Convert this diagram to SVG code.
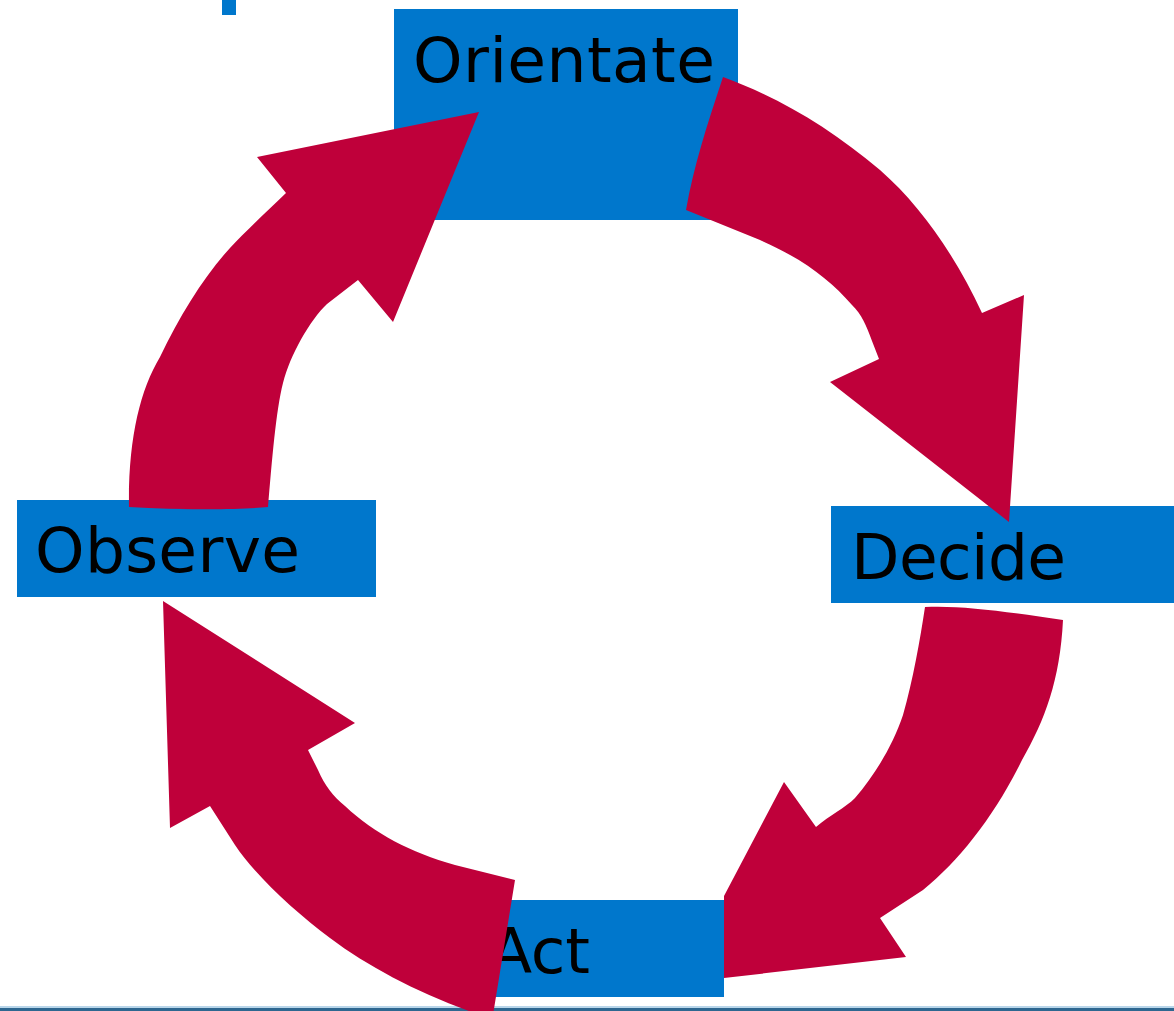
<svg xmlns="http://www.w3.org/2000/svg" width="1174" height="1011" viewBox="0 0 1174 1011">
  <style>
    .box { fill: #0077CC; }
    .label { font-family: "DejaVu Sans", "Liberation Sans", sans-serif; font-size: 63px; fill: #000000; }
    .arrow { fill: #BF003A; stroke: none; }
  </style>

  <!-- page background and footer rule -->
  <rect x="0" y="0" width="1174" height="1011" fill="#FFFFFF"/>
  <rect x="222" y="0" width="14" height="15" fill="#0077CC"/>
  <rect x="0" y="1006" width="1174" height="2" fill="#B9D6EA"/>
  <rect x="0" y="1008" width="1174" height="3" fill="#2E6790"/>

  <!-- stages -->
  <g id="node-orientate">
    <rect class="box" x="394" y="9" width="344" height="211"/>
    <text class="label" x="413" y="82" textLength="302" lengthAdjust="spacing">Orientate</text>
  </g>
  <g id="node-observe">
    <rect class="box" x="17" y="500" width="359" height="97"/>
    <text class="label" x="35" y="572" textLength="265" lengthAdjust="spacing">Observe</text>
  </g>
  <g id="node-decide">
    <rect class="box" x="831" y="506" width="343" height="97"/>
    <text class="label" x="851" y="579" textLength="215" lengthAdjust="spacing">Decide</text>
  </g>
  <g id="node-act">
    <rect class="box" x="468" y="900" width="256" height="97"/>
    <text class="label" x="489" y="973" textLength="101" lengthAdjust="spacing">Act</text>
  </g>

  <!-- curved block arrows forming the loop -->
  <g id="connectors">
    <!-- Observe to Orientate -->
    <path class="arrow" d="M129,507 C128,440 140,390 160,357 C180,315 205,275 230,248 C245,232 265,213 286,193 L257,157 L479,112 L393,322 L358,280 L327,304 C310,320 290,355 283,383 C276,410 272,460 268,507 C240,510 180,510 129,507 Z"/>
    <!-- Orientate to Decide -->
    <path class="arrow" d="M723,77 C780,98 830,128 880,170 C920,205 955,255 982,313 L1024,295 L1009,522 L830,382 L879,359 L872,341 C866,325 862,315 852,305 C830,280 805,260 760,240 L686,210 C694,165 707,125 723,77 Z"/>
    <!-- Decide to Act -->
    <path class="arrow" d="M925,607 C960,605 1010,612 1063,620 C1060,680 1045,720 1022,760 C995,815 960,860 923,890 L880,918 L906,957 L724,978 L724,896 L784,782 L816,827 C830,815 845,808 855,798 C875,775 893,745 903,715 C913,680 920,640 925,607 Z"/>
    <!-- Act to Observe -->
    <path class="arrow" d="M163,601 L355,723 L308,750 L318,770 C325,786 333,796 345,806 C375,834 410,852 455,865 L515,880 L493,1015 L480,1015 C420,994 370,968 330,938 C295,912 255,875 235,845 L210,806 L170,828 Z"/>
  </g>
</svg>
